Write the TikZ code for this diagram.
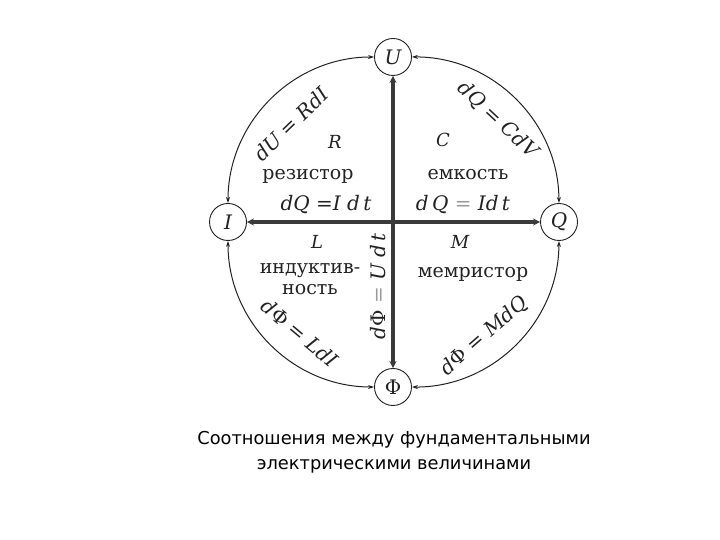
\documentclass[tikz,border=0pt]{standalone}
\usepackage{fontspec}
\setmainfont{DejaVu Serif}
\newfontfamily\capfont{DejaVu Sans}
\definecolor{dgInk}{HTML}{222222}
\definecolor{dgAxis}{HTML}{3A3A3A}
\definecolor{dgSoft}{HTML}{9A9A9A}
\usetikzlibrary{arrows.meta}

\begin{document}
\begin{tikzpicture}[x=1pt, y=1pt,
  quant/.style={circle, draw=dgInk, line width=0.9pt, fill=white,
    minimum size=37pt, inner sep=0pt, text=dgInk, font=\fontsize{20}{22}\selectfont},
  rel/.style={{Stealth[length=6pt,width=4pt]}-{Stealth[length=6pt,width=4pt]},
    line width=1pt, color=dgInk},
  cross/.style={{Stealth[length=7pt,width=7pt]}-{Stealth[length=7pt,width=7pt]},
    line width=4pt, color=dgAxis},
  elem/.style={font=\fontsize{18}{20}\selectfont\itshape, text=dgInk},
  word/.style={font=\fontsize{19}{21}\selectfont, text=dgInk, align=center},
  eq/.style={font=\fontsize{20}{22}\selectfont\itshape, text=dgInk},
  capt/.style={font=\capfont\fontsize{17.8}{25}\selectfont, text=black, align=center}
]
  \useasboundingbox (0,0) rectangle (720,540);
  % Quantities
  \node[quant] (U)   at (393,483) {\itshape U};
  \node[quant] (I)   at (228,318) {\itshape I};
  \node[quant] (Q)   at (559,318) {\itshape Q};
  \node[quant] (Phi) at (393,153) {Φ};
  % Cross
  \draw[cross] (I) -- (Q);
  \draw[cross] (U) -- (Phi);
  % Outer relations
  \draw[rel] (U) to[bend right=45] (I);
  \draw[rel] (I) to[bend right=45] (Phi);
  \draw[rel] (Phi) to[bend right=45] (Q);
  \draw[rel] (Q) to[bend right=45] (U);
  \node[eq, rotate=44]  (rR) at (291,416) {dU = RdI};
  \node[eq, rotate=-43] (rC) at (498,420) {dQ = CdV};
  \node[eq, rotate=-40] (rL) at (300,207) {d{\upshape Φ} = LdI};
  \node[eq, rotate=41]  (rM) at (484,204) {d{\upshape Φ} = MdQ};
  \node[eq, rotate=90]  (rU) at (378,254) {d{\upshape Φ} {\color{dgSoft}=} U d\,t};
  % Resistor
  \node[elem] (R) at (335,398) {R};
  \node[word] (wR) at (308,364) {резистор};
  \node[eq] (qR) at (326,335) {dQ =I d\,t};
  % Capacitor
  \node[elem] (C) at (443,400) {C};
  \node[word] (wC) at (468,365) {емкость};
  \node[eq] (qC) at (463,335) {d\,Q {\color{dgSoft}=} Id\,t};
  % Inductor
  \node[elem] (L) at (317,298) {L};
  \node[word] (wL) at (310,261) {индуктив-\\ность};
  % Memristor
  \node[elem] (M) at (460,298) {M};
  \node[word] (wM) at (473,266) {мемристор};
  % Caption
  \node[capt] (cap) at (394,88) {Соотношения между фундаментальными\\электрическими величинами};
\end{tikzpicture}
\end{document}
